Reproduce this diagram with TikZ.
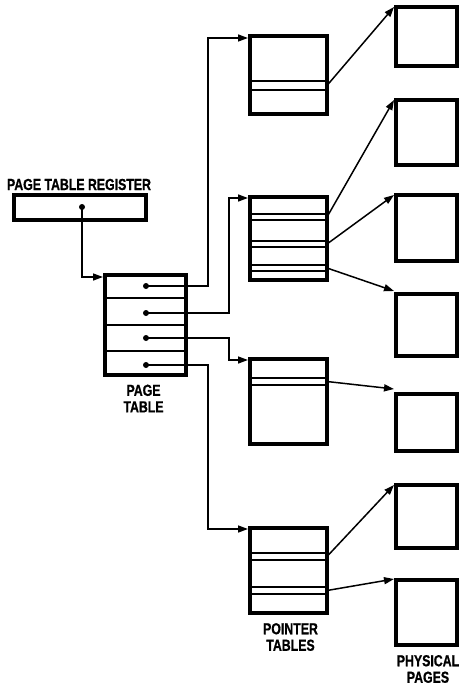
\documentclass[tikz,border=0pt]{standalone}
\usepackage{fontspec}
\setmainfont{Liberation Sans}[FakeStretch=0.77,BoldFeatures={FakeBold=0.8}]
\usetikzlibrary{arrows.meta,calc}
\begin{document}
\begin{tikzpicture}[x=1pt,y=-1pt,
  box/.style={draw,line width=4pt,inner sep=0pt,outer sep=0pt,anchor=north west},
  stripe/.style={line width=2pt},
  conn/.style={line width=1.5pt,-{Triangle[length=10pt,width=7pt]}},
  lbl/.style={font=\fontsize{16}{16.5}\selectfont\bfseries,align=center,inner sep=0pt},
  dotc/.style={circle,fill,inner sep=0pt,minimum size=6pt}]
\useasboundingbox (0,0) rectangle (461,687);

% page table register
\node[box,minimum width=132pt,minimum height=25pt] (R) at (14,195) {};
\node[lbl] (RL) at (79,184.5) {PAGE TABLE REGISTER};
\node[dotc] (RD) at (82,207) {};

% page table
\node[box,minimum width=81pt,minimum height=100pt] (PT) at (105,275) {};
\foreach \y in {298,325,351} \draw[stripe] (PT.west |- 0,\y) -- (PT.east |- 0,\y);
\node[dotc] (D1) at (146,286) {};
\node[dotc] (D2) at (146,313) {};
\node[dotc] (D3) at (146,338) {};
\node[dotc] (D4) at (146,365) {};
\node[lbl] (PTL) at (143.5,398.5) {PAGE\\TABLE};

% pointer tables
\node[box,minimum width=77pt,minimum height=78pt] (T1) at (250,36) {};
\node[box,minimum width=77pt,minimum height=83pt] (T2) at (250,197) {};
\node[box,minimum width=77pt,minimum height=85pt] (T3) at (250,359) {};
\node[box,minimum width=77pt,minimum height=85pt] (T4) at (250,528) {};
\node[lbl] (TL) at (290.5,637) {POINTER\\TABLES};

\foreach \t/\a/\b in {T1/81/90,T2/214/220,T2/241/247,T2/265/271,T3/378/385,T4/553/560,T4/587/594}{
  \draw[stripe] (\t.west |- 0,\a) -- (\t.east |- 0,\a);
  \draw[stripe] (\t.west |- 0,\b) -- (\t.east |- 0,\b);
}

% physical pages
\node[box,minimum width=61pt,minimum height=59pt] (P1) at (396,7) {};
\node[box,minimum width=61pt,minimum height=65pt] (P2) at (396,100) {};
\node[box,minimum width=61pt,minimum height=66pt] (P3) at (396,195) {};
\node[box,minimum width=61pt,minimum height=62pt] (P4) at (396,294) {};
\node[box,minimum width=61pt,minimum height=57pt] (P5) at (396,394) {};
\node[box,minimum width=61pt,minimum height=63pt] (P6) at (396,485) {};
\node[box,minimum width=61pt,minimum height=65pt] (P7) at (396,580) {};
\node[lbl] (PL) at (428,669) {PHYSICAL\\PAGES};

% register -> page table
\draw[conn] (RD.center) |- ($(PT.north west)+(-2,2)$);

% page table -> pointer tables
\draw[conn] (D1.center) -| (208,38) -- ($(T1.north west)+(-2,2)$);
\draw[conn] (D2.center) -| (229,198) -- ($(T2.north west)+(-2,1)$);
\draw[conn] (D3.center) -| (229,360) -- ($(T3.north west)+(-2,1)$);
\draw[conn] (D4.center) -| (208,529) -- ($(T4.north west)+(-2,1)$);

% pointer tables -> physical pages
\coordinate (S1) at (T1.east |- 0,85.5);
\coordinate (S2) at (T2.east |- 0,217);
\coordinate (S3) at (T2.east |- 0,244);
\coordinate (S4) at (T2.east |- 0,268);
\coordinate (S5) at (T3.east |- 0,381.5);
\coordinate (S6) at (T4.east |- 0,556.5);
\coordinate (S7) at (T4.east |- 0,590.5);
\draw[conn] (S1) -- ($(P1.north west)+(-2,0)$);
\draw[conn] (S2) -- ($(P2.north west)+(-2,0)$);
\draw[conn] (S3) -- ($(P3.north west)+(-2,0)$);
\draw[conn] (S4) -- ($(P4.north west)+(-2,-3)$);
\draw[conn] (S5) -- ($(P5.north west)+(-2,-5)$);
\draw[conn] (S6) -- ($(P6.north west)+(-2,0)$);
\draw[conn] (S7) -- ($(P7.north west)+(-2,-1)$);
\end{tikzpicture}
\end{document}
